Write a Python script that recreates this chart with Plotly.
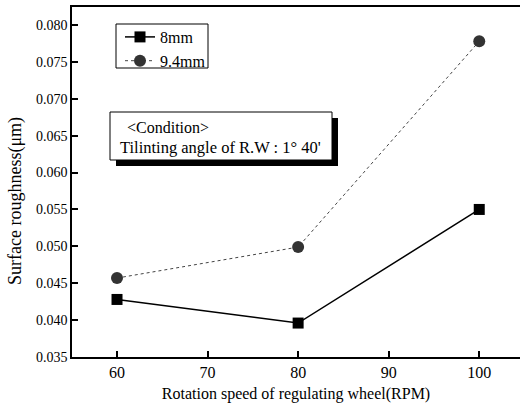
import plotly.graph_objects as go

rpm = [60, 80, 100]
rough_8mm = [0.0428, 0.0396, 0.0550]
rough_94mm = [0.0457, 0.0499, 0.0778]
x_ticks = [60, 70, 80, 90, 100]
y_ticks = [0.035, 0.040, 0.045, 0.050, 0.055, 0.060, 0.065, 0.070, 0.075, 0.080]

W, H = 522, 413
L, R, T, B = 72, 2, 7, 56
pw, ph = W - L - R, H - T - B

def px(x):
    return (x - L) / pw

def py(y):
    return (H - B - y) / ph

FONT = "Liberation Serif"

fig = go.Figure()
fig.add_trace(go.Scatter(
    x=rpm, y=rough_8mm, name="8mm", mode="lines+markers",
    line=dict(color="black", width=1.5),
    marker=dict(symbol="square", size=11, color="black"),
))
fig.add_trace(go.Scatter(
    x=rpm, y=rough_94mm, name="9.4mm", mode="lines+markers",
    line=dict(color="#444", width=1, dash="dot"),
    marker=dict(symbol="circle", size=12, color="#333"),
))

shapes = [
    # legend frame
    dict(type="rect", xref="paper", yref="paper",
         x0=px(116), x1=px(208), y0=py(68), y1=py(24),
         fillcolor="rgba(0,0,0,0)", line=dict(color="black", width=1), layer="above"),
    # condition box shadow + box
    dict(type="rect", xref="paper", yref="paper",
         x0=px(116), x1=px(338), y0=py(166), y1=py(118),
         fillcolor="black", line=dict(width=0), layer="above"),
    dict(type="rect", xref="paper", yref="paper",
         x0=px(110), x1=px(332), y0=py(160), y1=py(112),
         fillcolor="white", line=dict(color="black", width=1), layer="above"),
]
annotations = [
    dict(text="&lt;Condition&gt;", xref="paper", yref="paper", x=px(125), y=py(127),
         xanchor="left", yanchor="middle", showarrow=False,
         font=dict(family=FONT, size=16, color="black")),
    dict(text="Tilinting angle of R.W : 1° 40'", xref="paper", yref="paper", x=px(118), y=py(148),
         xanchor="left", yanchor="middle", showarrow=False,
         font=dict(family=FONT, size=16.5, color="black")),
    dict(text="Surface roughness(μm)", xref="paper", yref="paper", x=px(15), y=py(201),
         xanchor="center", yanchor="middle", textangle=-90, showarrow=False,
         font=dict(family=FONT, size=18, color="black")),
]

fig.update_layout(
    width=W, height=H,
    margin=dict(l=L, r=R, t=T, b=B, autoexpand=False),
    paper_bgcolor="white", plot_bgcolor="white",
    font=dict(family=FONT, size=14, color="black"),
    showlegend=True,
    legend=dict(x=px(120), y=py(20), xanchor="left", yanchor="top",
                borderwidth=0, bgcolor="rgba(0,0,0,0)",
                font=dict(family=FONT, size=16), tracegroupgap=0,
                itemwidth=30),
    shapes=shapes,
    annotations=annotations,
    xaxis=dict(range=[55.03, 104.5], tickvals=x_ticks, ticktext=[str(v) for v in x_ticks],
               automargin=False,
               showgrid=False, zeroline=False, showline=True, linecolor="black", linewidth=1.5,
               mirror=True, ticks="inside", ticklen=6, tickwidth=1.5, tickcolor="black",
               title=dict(text="Rotation speed of regulating wheel(RPM)", standoff=8,
                          font=dict(family=FONT, size=16)),
               tickfont=dict(family=FONT, size=16)),
    yaxis=dict(range=[0.035, 0.08244], tickvals=y_ticks, ticktext=[f"{v:.3f}" for v in y_ticks],
               automargin=False,
               showgrid=False, zeroline=False, showline=True, linecolor="black", linewidth=1.5,
               ticks="inside", ticklen=6, tickwidth=1.5, tickcolor="black",
               tickfont=dict(family=FONT, size=14)),
)

fig.write_html("out.html", config={"displayModeBar": False},
               post_script="document.body.style.margin='0';document.body.style.overflow='hidden';")
